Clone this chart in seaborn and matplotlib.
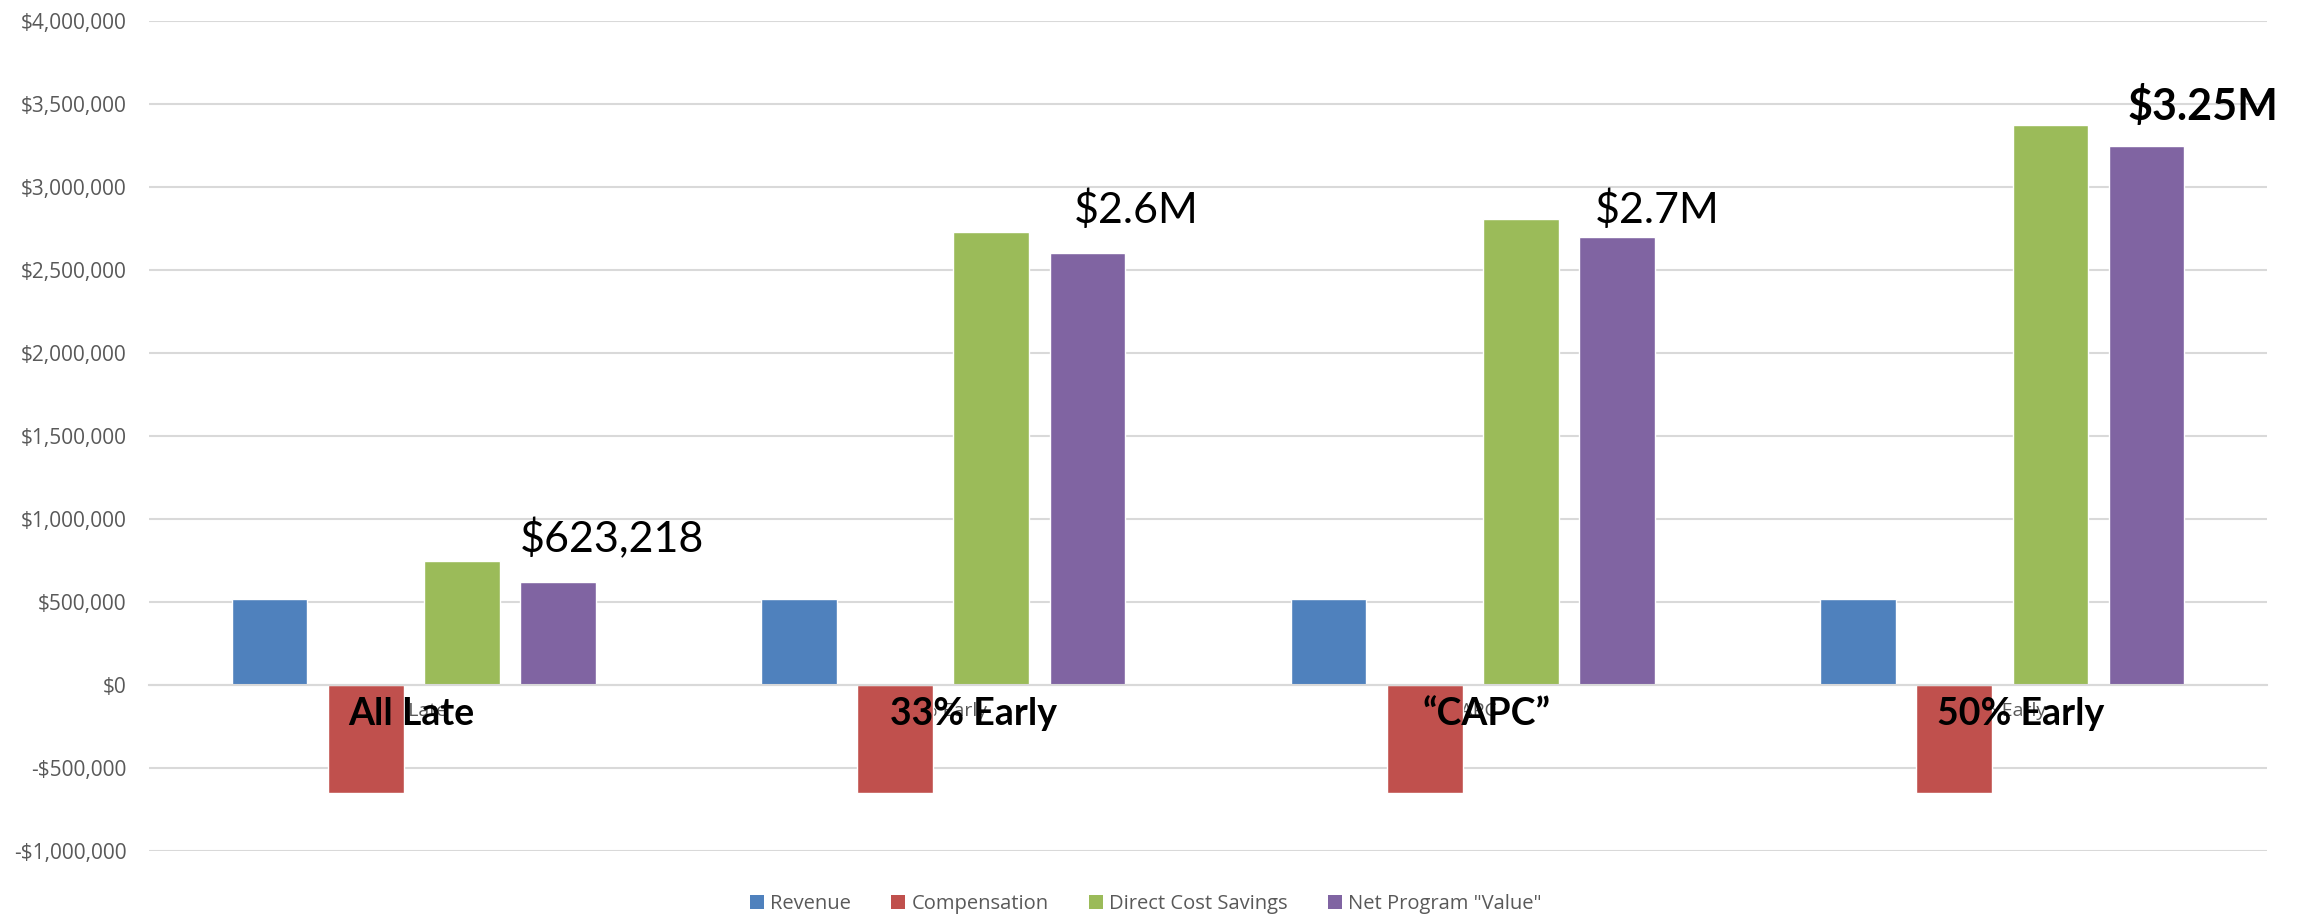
import matplotlib
matplotlib.use("Agg")
import matplotlib.pyplot as plt
from matplotlib.ticker import FuncFormatter, MultipleLocator
from matplotlib.patches import Patch
import pandas as pd
import seaborn as sns

# ---- data ----
scenarios = ["All Late", "33% Early", "CAPC", "50% Early"]
scenario_titles = ["All Late", "33% Early", "\u201cCAPC\u201d", "50% Early"]
series = ["Revenue", "Compensation", "Direct Cost Savings", 'Net Program "Value"']
revenue = [516000, 516000, 516000, 516000]
compensation = [-650000, -650000, -650000, -650000]
direct_cost_savings = [745000, 2727000, 2809000, 3372000]
net_program_value = [623218, 2600000, 2700000, 3250000]
net_labels = ["$623,218", "$2.6M", "$2.7M", "$3.25M"]
net_label_bold = [False, False, False, True]

colors = ["#4F81BD", "#C0504D", "#9BBB59", "#8064A2"]

rows = []
for i, sc in enumerate(scenarios):
    for name, vals in zip(series, [revenue, compensation, direct_cost_savings, net_program_value]):
        rows.append({"scenario": sc, "series": name, "value": vals[i]})
df = pd.DataFrame(rows)

# ---- style ----
sns.set_style("white")
plt.rcParams["font.family"] = ["Open Sans", "DejaVu Sans"]

fig = plt.figure(figsize=(23.1, 9.23), dpi=100)
ax = fig.add_axes([0.0645, 0.078, 0.9169, 0.8992])

sns.barplot(data=df, x="scenario", y="value", hue="series", order=scenarios,
            hue_order=series, palette=colors, width=0.7256, gap=0.213,
            saturation=1, errorbar=None, legend=False, ax=ax)

ax.set_ylim(-1000000, 4000000)
ax.set_xlim(-0.5, 3.5)
ax.yaxis.set_major_locator(MultipleLocator(500000))


def money(v, _pos=None):
    v = int(round(v))
    return ("-$" if v < 0 else "$") + f"{abs(v):,}"


ax.yaxis.set_major_formatter(FuncFormatter(money))
ax.grid(axis="y", color="#D9D9D9", linewidth=1.5)
ax.set_axisbelow(True)
for side in ["left", "right", "top"]:
    ax.spines[side].set_visible(False)
ax.spines["bottom"].set_position(("data", 0))
ax.spines["bottom"].set_color("#D9D9D9")
ax.spines["bottom"].set_linewidth(1.5)
ax.tick_params(axis="y", length=0, pad=16, labelsize=15, labelcolor="#595959")
ax.tick_params(axis="x", length=0, pad=12, labelsize=14, labelcolor="#595959")
ax.set_xlabel("")
ax.set_ylabel("")

# Net program value callouts above the purple bars
slot = 0.7256 / 4
bar_w = slot * (1 - 0.213)
label_dx = [0.0, 0.045, 0.03, 0.036]
label_y = [801000, 2785000, 2785000, 3404000]
for i, (txt, bold) in enumerate(zip(net_labels, net_label_bold)):
    left = i + 1.5 * slot - bar_w / 2 + label_dx[i]
    ax.text(left, label_y[i], txt, ha="left", va="baseline",
            fontsize=31, family=["Lato", "DejaVu Sans"],
            fontweight="bold" if bold else "normal", color="black")

# Large scenario titles near the zero line
title_dx = [-0.005, 0.057, 0.026, 0.035]
for i, t in enumerate(scenario_titles):
    ax.text(i + title_dx[i], -241000, t, ha="center", va="baseline",
            fontsize=27, fontweight="bold", family=["Lato", "DejaVu Sans"],
            color="black")

handles = [Patch(facecolor=c, edgecolor="none") for c in colors]
fig.legend(handles, series, loc="center", bbox_to_anchor=(0.496, 0.0206),
           ncol=4, frameon=False, fontsize=14.5, labelcolor="#595959",
           handlelength=0.7, handleheight=0.7, handletextpad=0.3,
           columnspacing=2.0)

fig.savefig("out.png", dpi=100)
